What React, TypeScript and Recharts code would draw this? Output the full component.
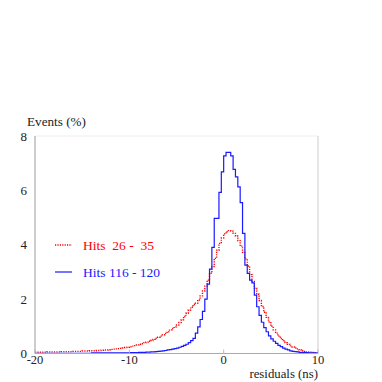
import { LineChart, Line, XAxis, YAxis, ReferenceLine } from 'recharts';

// histogram bins, 0.25 ns wide, from -20 to 10 ns
const BIN = 0.25;
const X_MIN = -20;
const X_MAX = 10;

const hits26to35 = [
  0.05, 0.05, 0.05, 0.05, 0.05, 0.06, 0.06, 0.06, // -20 .. -18
  0.06, 0.06, 0.06, 0.07, 0.07, 0.07, 0.07, 0.07, // -18 .. -16
  0.08, 0.08, 0.08, 0.08, 0.09, 0.09, 0.09, 0.10, // -16 .. -14
  0.10, 0.10, 0.11, 0.11, 0.12, 0.13, 0.13, 0.14, // -14 .. -12
  0.15, 0.16, 0.17, 0.18, 0.19, 0.20, 0.22, 0.23, // -12 .. -10
  0.25, 0.27, 0.29, 0.31, 0.34, 0.36, 0.39, 0.42, // -10 .. -8
  0.45, 0.48, 0.52, 0.56, 0.60, 0.64, 0.69, 0.74, // -8 .. -6
  0.80, 0.86, 0.92, 0.98, 1.05, 1.14, 1.24, 1.36, // -6 .. -4
  1.48, 1.60, 1.70, 1.80, 1.85, 1.97, 2.12, 2.30, // -4 .. -2
  2.48, 2.70, 2.95, 3.20, 3.50, 3.80, 4.05, 4.25, // -2 .. 0
  4.40, 4.48, 4.52, 4.50, 4.42, 4.32, 4.15, 3.95, // 0 .. 2
  3.72, 3.48, 3.22, 2.90, 2.65, 2.40, 2.18, 1.95, // 2 .. 4
  1.73, 1.52, 1.33, 1.16, 1.00, 0.87, 0.75, 0.64, // 4 .. 6
  0.55, 0.47, 0.40, 0.34, 0.28, 0.24, 0.20, 0.17, // 6 .. 8
  0.13, 0.10, 0.08, 0.06, 0.05, 0.04, 0.03, 0.03, // 8 .. 10
];

const hits116to120 = [
  0.01, 0.01, 0.01, 0.01, 0.01, 0.01, 0.01, 0.01, // -20 .. -18
  0.01, 0.01, 0.01, 0.01, 0.01, 0.01, 0.01, 0.01, // -18 .. -16
  0.01, 0.01, 0.01, 0.01, 0.01, 0.01, 0.01, 0.01, // -16 .. -14
  0.02, 0.02, 0.02, 0.02, 0.02, 0.02, 0.02, 0.02, // -14 .. -12
  0.02, 0.02, 0.02, 0.02, 0.02, 0.02, 0.02, 0.02, // -12 .. -10
  0.03, 0.03, 0.03, 0.03, 0.04, 0.04, 0.04, 0.05, // -10 .. -8
  0.05, 0.06, 0.06, 0.07, 0.08, 0.09, 0.10, 0.11, // -8 .. -6
  0.13, 0.14, 0.16, 0.18, 0.20, 0.23, 0.26, 0.30, // -6 .. -4
  0.34, 0.40, 0.47, 0.56, 0.75, 0.98, 1.25, 1.55, // -4 .. -2
  2.00, 2.55, 3.10, 3.90, 4.97, 4.97, 5.93, 6.68, // -2 .. 0
  7.27, 7.40, 7.40, 7.27, 6.77, 6.50, 6.13, 5.55, // 0 .. 2
  4.42, 3.25, 2.95, 2.70, 2.60, 2.15, 1.72, 1.40, // 2 .. 4
  1.15, 0.95, 0.80, 0.65, 0.54, 0.45, 0.37, 0.30, // 4 .. 6
  0.25, 0.20, 0.16, 0.13, 0.10, 0.08, 0.07, 0.06, // 6 .. 8
  0.04, 0.04, 0.03, 0.03, 0.02, 0.02, 0.02, 0.02, // 8 .. 10
];

const X_TICKS = [-20, -10, 0, 10];
const Y_TICKS = [0, 2, 4, 6, 8];

const LEGEND = [
  { label: 'Hits  26 -  35', color: '#ff0000', dash: '1.2 1.2' },
  { label: 'Hits 116 - 120', color: '#1a1aff', dash: undefined },
];

const FONT = 'Liberation Serif';

const chartData = hits26to35.map((v, i) => ({
  x: X_MIN + i * BIN,
  red: v,
  blue: hits116to120[i],
}));
// closing edge so the last bin gets its width
chartData.push({
  x: X_MAX,
  red: hits26to35[hits26to35.length - 1],
  blue: hits116to120[hits116to120.length - 1],
});

function XTick(props: any) {
  const { x, y, payload } = props;
  return (
    <g>
      <line x1={x} x2={x} y1={y} y2={y - 4} stroke="#bbb" />
      <text x={x} y={y + 10} textAnchor="middle" fill="#222" fontFamily={FONT} fontSize={12.5}>
        {payload.value}
      </text>
    </g>
  );
}

export default function App() {
  return (
    <div style={{ position: 'absolute', left: 0, top: 0, width: 382, height: 382, background: '#fff' }}>
      <LineChart
        width={382}
        height={382}
        data={chartData}
        margin={{ top: 136, right: 64, bottom: 0, left: 0 }}
        style={{ fontFamily: FONT }}
      >
        <XAxis
          dataKey="x"
          type="number"
          domain={[X_MIN, X_MAX]}
          ticks={X_TICKS}
          height={28.5}
          axisLine={{ stroke: '#aaa' }}
          tickLine={false}
          tickSize={0}
          tickMargin={0}
          tick={<XTick />}
          interval={0}
        />
        <YAxis
          type="number"
          domain={[0, 8]}
          ticks={Y_TICKS}
          width={35}
          axisLine={{ stroke: '#999' }}
          tickLine={false}
          tick={{ fill: '#222', fontFamily: FONT, fontSize: 13 }}
          interval={0}
        />
        <ReferenceLine y={8} stroke="#eee" />
        <ReferenceLine x={10} stroke="#ccc" />
        <Line
          dataKey="red"
          type="stepAfter"
          stroke="#ff0000"
          strokeWidth={1.4}
          strokeDasharray="1.2 1.2"
          dot={false}
          isAnimationActive={false}
        />
        <Line
          dataKey="blue"
          type="stepAfter"
          stroke="#1a1aff"
          strokeWidth={1.2}
          dot={false}
          isAnimationActive={false}
        />
      </LineChart>
      <svg
        width={382}
        height={382}
        style={{ position: 'absolute', left: 0, top: 0, pointerEvents: 'none' }}
      >
        <text x={27} y={126} fill="#222" fontFamily={FONT} fontSize={13.2}>Events (%)</text>
        <text x={318} y={378} fill="#222" textAnchor="end" fontFamily={FONT} fontSize={12.8}>
          residuals (ns)
        </text>
        {LEGEND.map((item, i) => (
          <g key={item.label}>
            <line
              x1={55}
              x2={72}
              y1={245 + i * 27}
              y2={245 + i * 27}
              stroke={item.color}
              strokeWidth={item.dash ? 1.4 : 1.2}
              strokeDasharray={item.dash}
            />
            <text
              x={83}
              y={249.5 + i * 27}
              fill={item.color}
              fontFamily={FONT}
              fontSize={13.5}
              style={{ whiteSpace: 'pre' }}
            >
              {item.label}
            </text>
          </g>
        ))}
      </svg>
    </div>
  );
}
